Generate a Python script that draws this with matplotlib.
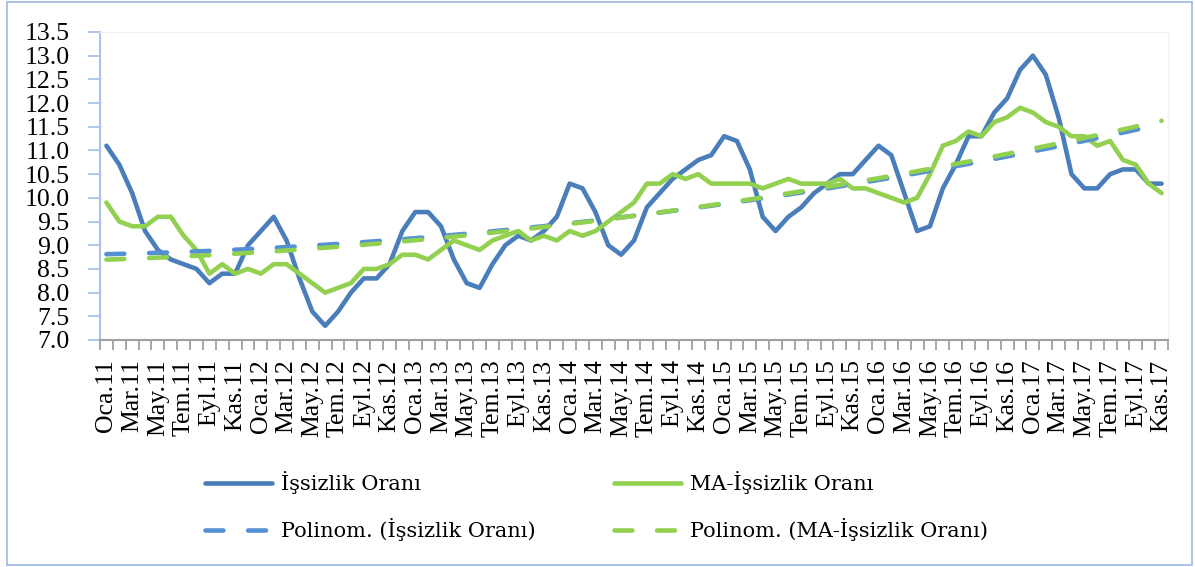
import numpy as np
import matplotlib.pyplot as plt
from matplotlib.patches import Rectangle
from matplotlib.ticker import FormatStrFormatter

# Monthly unemployment rate, Jan 2011 - Nov 2017
months = ['Oca', 'Şub', 'Mar', 'Nis', 'May', 'Haz', 'Tem', 'Ağu', 'Eyl', 'Eki', 'Kas', 'Ara']
years = ['11', '12', '13', '14', '15', '16', '17']
labels = [m + '.' + y for y in years for m in months][:83]

issizlik = [11.1, 10.7, 10.1, 9.3, 8.9, 8.7, 8.6, 8.5, 8.2, 8.4,
            8.4, 9.0, 9.3, 9.6, 9.1, 8.3, 7.6, 7.3, 7.6, 8.0,
            8.3, 8.3, 8.6, 9.3, 9.7, 9.7, 9.4, 8.7, 8.2, 8.1,
            8.6, 9.0, 9.2, 9.1, 9.3, 9.6, 10.3, 10.2, 9.7, 9.0,
            8.8, 9.1, 9.8, 10.1, 10.4, 10.6, 10.8, 10.9, 11.3, 11.2,
            10.6, 9.6, 9.3, 9.6, 9.8, 10.1, 10.3, 10.5, 10.5, 10.8,
            11.1, 10.9, 10.1, 9.3, 9.4, 10.2, 10.7, 11.3, 11.3, 11.8,
            12.1, 12.7, 13.0, 12.6, 11.7, 10.5, 10.2, 10.2, 10.5, 10.6,
            10.6, 10.3, 10.3]

ma_issizlik = [9.9, 9.5, 9.4, 9.4, 9.6, 9.6, 9.2, 8.9, 8.4, 8.6,
               8.4, 8.5, 8.4, 8.6, 8.6, 8.4, 8.2, 8.0, 8.1, 8.2,
               8.5, 8.5, 8.6, 8.8, 8.8, 8.7, 8.9, 9.1, 9.0, 8.9,
               9.1, 9.2, 9.3, 9.1, 9.2, 9.1, 9.3, 9.2, 9.3, 9.5,
               9.7, 9.9, 10.3, 10.3, 10.5, 10.4, 10.5, 10.3, 10.3, 10.3,
               10.3, 10.2, 10.3, 10.4, 10.3, 10.3, 10.3, 10.4, 10.2, 10.2,
               10.1, 10.0, 9.9, 10.0, 10.5, 11.1, 11.2, 11.4, 11.3, 11.6,
               11.7, 11.9, 11.8, 11.6, 11.5, 11.3, 11.3, 11.1, 11.2, 10.8,
               10.7, 10.3, 10.1]

blue = '#4A7EBB'
blue_trend = '#5590D5'
green = '#92D050'

fig = plt.figure(figsize=(11.95, 5.67), dpi=100)
ax = fig.add_axes([100 / 1195, 1 - 340 / 567, 1068 / 1195, 308 / 567])

x = np.arange(len(labels))
h1, = ax.plot(x, issizlik, color=blue, lw=3.3, solid_joinstyle='round',
              solid_capstyle='round', label='İşsizlik Oranı')
h2, = ax.plot(x, ma_issizlik, color=green, lw=3.3, solid_joinstyle='round',
              solid_capstyle='round', label='MA-İşsizlik Oranı')

# 2nd order polynomial trend lines (like Excel "Polinom.")
t1 = np.polyval(np.polyfit(x, issizlik, 2), x)
t2 = np.polyval(np.polyfit(x, ma_issizlik, 2), x)
h3, = ax.plot(x, t1, color=blue_trend, lw=3.3, dashes=(3.9, 5.4),
              dash_capstyle='round', label='Polinom. (İşsizlik Oranı)')
h4, = ax.plot(x, t2, color=green, lw=3.3, dashes=(3.9, 5.4),
              dash_capstyle='round', label='Polinom. (MA-İşsizlik Oranı)')

ax.set_xlim(-0.5, len(labels) - 0.5)
ax.set_ylim(7, 13.5)
ax.set_yticks(np.arange(7, 13.51, 0.5))
ax.yaxis.set_major_formatter(FormatStrFormatter('%.1f'))
ax.set_xticks(x[::2])
ax.set_xticklabels(labels[::2], rotation=90)
ax.set_xticks(np.arange(-0.5, len(labels), 1), minor=True)
ax.tick_params(axis='x', which='major', length=0, pad=14)
ax.tick_params(axis='x', which='minor', length=7, color='#A0A0A0', width=1.3)
ax.tick_params(axis='y', length=9, color='#A9C4E6', width=1.3, pad=13)
for lbl in ax.get_xticklabels() + ax.get_yticklabels():
    lbl.set_fontfamily('Liberation Serif')
    lbl.set_fontsize(18.5)

ax.spines['left'].set_color('#A9C4E6')
ax.spines['left'].set_linewidth(1.5)
ax.spines['bottom'].set_color('#A0A0A0')
ax.spines['bottom'].set_linewidth(1.5)
for s in ['top', 'right']:
    ax.spines[s].set_color('#EEF2F8')
    ax.spines[s].set_linewidth(1)

# outer chart border
fig.add_artist(Rectangle((7 / 1195, 2 / 567), 1185 / 1195, 563 / 567,
                         transform=fig.transFigure, fill=False,
                         edgecolor='#9DB9E3', lw=1.2))

leg_kw = dict(loc='upper left', frameon=False,
              prop={'family': 'DejaVu Serif', 'size': 15},
              handlelength=3.2, handletextpad=0.43, labelspacing=1.15,
              borderpad=0, borderaxespad=0)
fig.legend(handles=[h1, h3], bbox_to_anchor=(205 / 1195, 1 - 471 / 567), **leg_kw)
fig.legend(handles=[h2, h4], bbox_to_anchor=(614 / 1195, 1 - 471 / 567), **leg_kw)

plt.savefig('out.png', dpi=100)
